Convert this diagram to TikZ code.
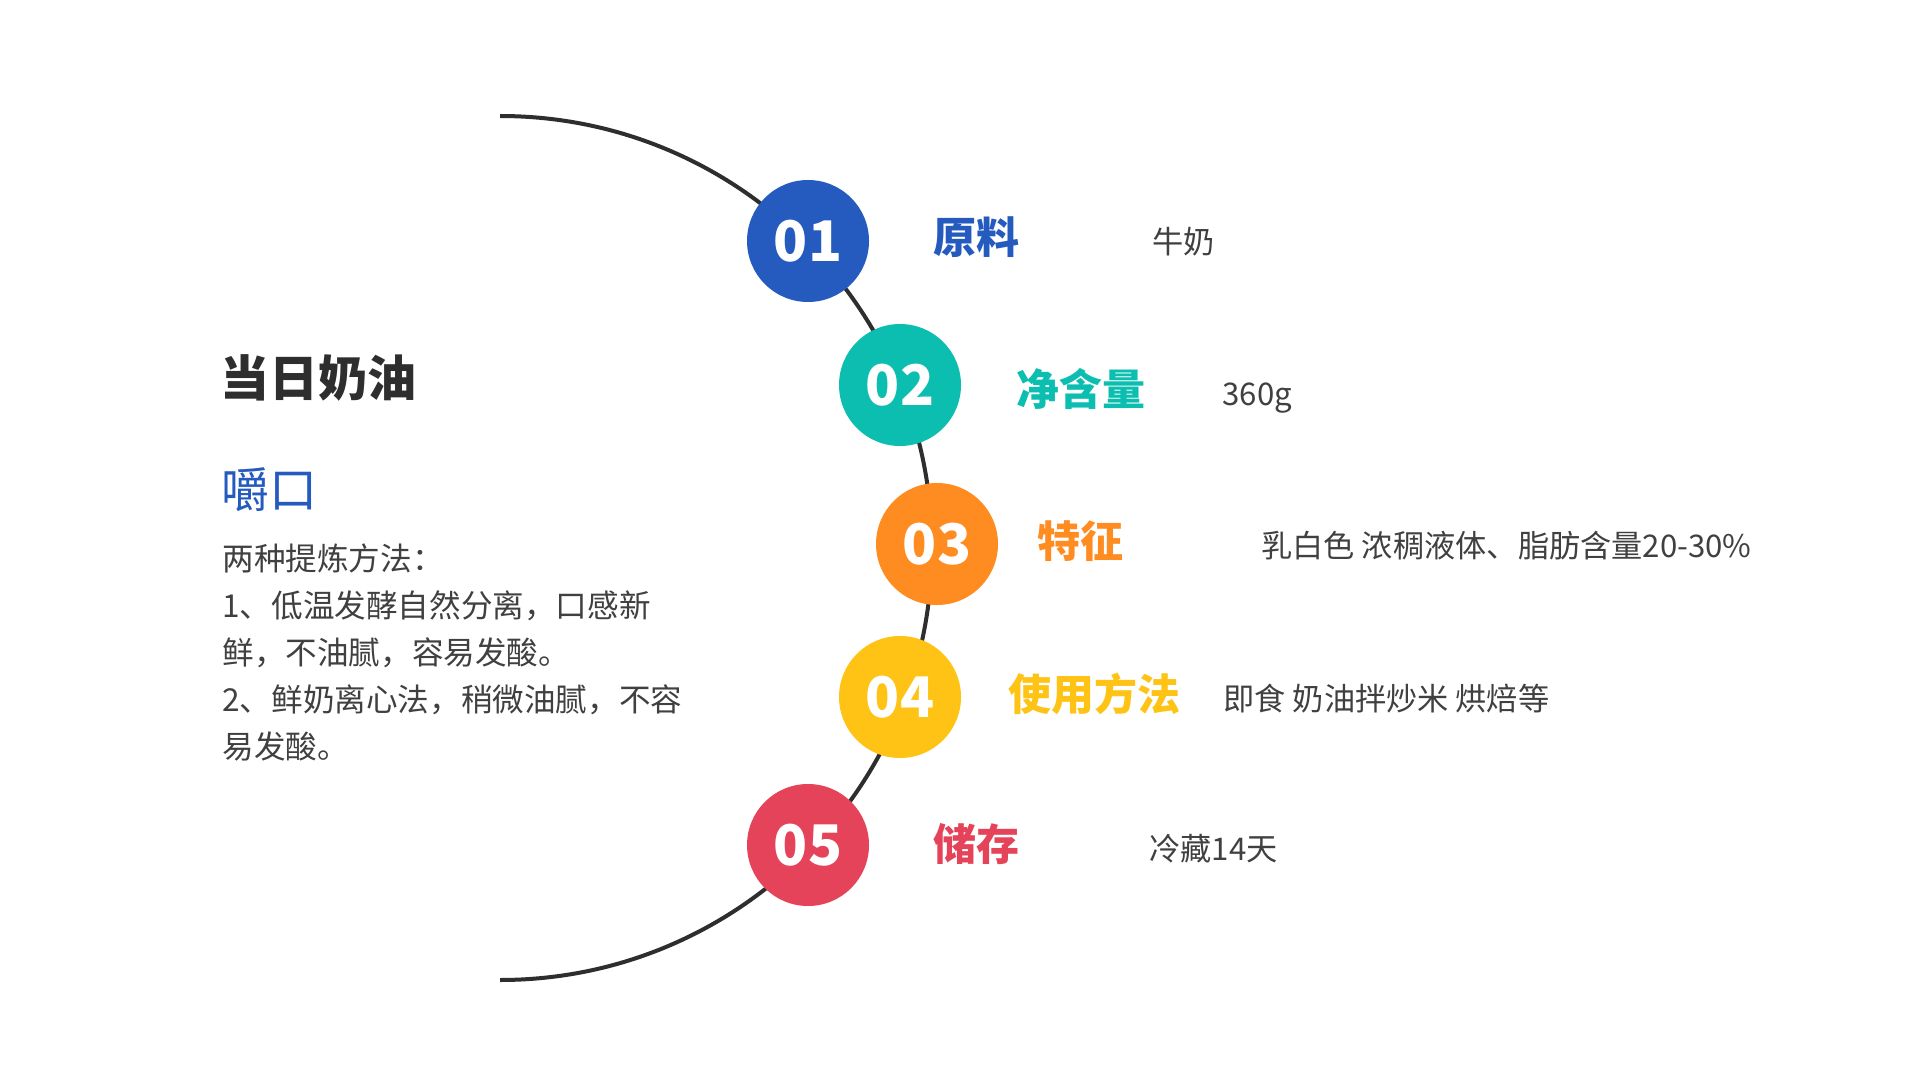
\documentclass[tikz,border=0pt]{standalone}
\usepackage{fontspec}
\setmainfont{Noto Sans CJK SC}
\usepackage{xcolor}
\usepackage{tikz}
\usetikzlibrary{positioning}
\definecolor{Ink}{HTML}{2E2E2E}
\definecolor{Body}{HTML}{404040}
\definecolor{Cobalt}{HTML}{255BBE}
\definecolor{Jade}{HTML}{0CBEAF}
\definecolor{Amber}{HTML}{FF8C21}
\definecolor{Saffron}{HTML}{FEC314}
\definecolor{Rose}{HTML}{E5435A}

\begin{document}
\begin{tikzpicture}[
  x=0.5pt,y=-0.5pt,
  every node/.style={inner sep=0pt},
  track/.style={draw=Ink,line width=2pt},
  dot/.style={circle,minimum size=61pt,text=white,font=\fontsize{28}{28}\selectfont\bfseries},
  head/.style={anchor=west,text height=0.86em,text depth=0.14em,font=\fontsize{21.5}{21.5}\selectfont\bfseries},
  info/.style={anchor=west,text=Body,text height=0.86em,text depth=0.14em,font=\fontsize{15.6}{15.6}\selectfont}
]
\fill[white] (0,0) rectangle (1920,1080);
\useasboundingbox (0,0) rectangle (1920,1080);
\coordinate (arctop) at (500,116);
\draw[track] (arctop) arc[start angle=-90,end angle=90,radius=432];
\foreach \n/\x/\y/\col/\ly/\tx/\title/\dx/\desc in {
  01/808/241/Cobalt/246/933/原料/1152/牛奶,
  02/900/385/Jade/398/1016/净含量/1222/360g,
  03/937/544/Amber/550/1037/特征/1261/乳白色 浓稠液体、脂肪含量20-30\%,
  04/900/697/Saffron/703/1008/使用方法/1223/即食 奶油拌炒米 烘焙等,
  05/808/845/Rose/853/933/储存/1149/冷藏14天}{
  \node[dot,fill=\col] (c\n) at (\x,\y) {\n};
  \node[head,text=\col] (h\n) at (\tx,\ly) {\title};
  \node[info] (d\n) at (\dx,\ly) {\desc};
}
\node[anchor=west,text=Ink,font=\fontsize{24.5}{24.5}\selectfont\bfseries] (name) at (220,378) {当日奶油};
\node[anchor=west,text=Cobalt,font=\fontsize{24}{24}\selectfont] (taste) at (221,490) {嚼口};
\node[anchor=north west,align=left,text=Body,font=\fontsize{15.8}{23.5}\selectfont] (notes) at (222,543) {两种提炼方法：\\1、低温发酵自然分离，口感新\\鲜，不油腻，容易发酸。\\2、鲜奶离心法，稍微油腻，不容\\易发酸。};
\end{tikzpicture}
\end{document}
